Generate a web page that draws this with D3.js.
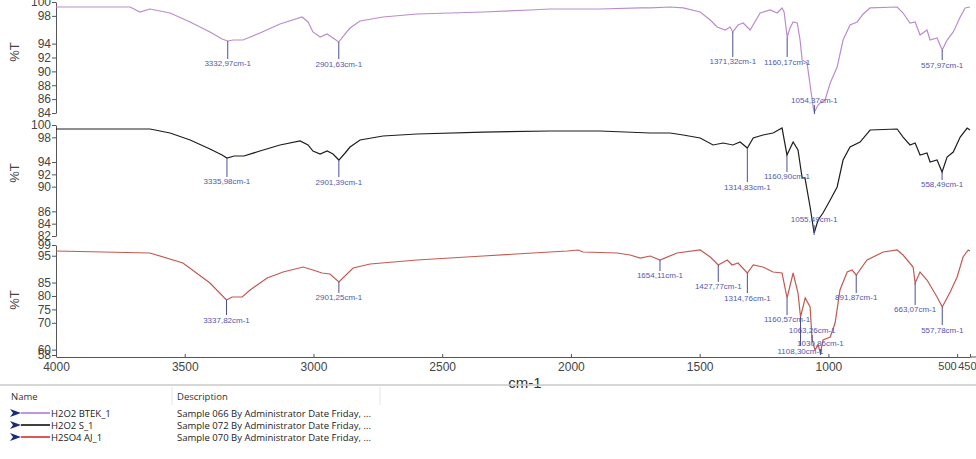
<!DOCTYPE html>
<html>
<head>
<meta charset="utf-8">
<script src="https://cdn.jsdelivr.net/npm/d3@7"></script>
<style>
  body { margin: 0; background: #fff; }
  svg { display: block; font-family: Arial, "Liberation Sans", sans-serif; }
</style>
</head>
<body>
<svg id="chart" width="976" height="459"></svg>
<script>
// wavenumber ticks on the shared x axis
const wnTicks = [4000, 3500, 3000, 2500, 2000, 1500, 1000, 500, 450]

// %T ticks for each stacked trace
const btekTicks = [84, 86, 88, 90, 92, 94, 98, 100]
const sTicks = [82, 84, 86, 90, 92, 94, 98, 100]
const ajTicks = [58, 60, 70, 75, 80, 85, 95, 99]

// spectra: [wavenumber cm-1, %T]
const btekSpectrum = [[4000,99.28],[3712,99.28],[3674,98.56],[3635,98.99],[3557,98.41],[3479,97.12],[3402,95.68],[3355,94.67],[3332.97,94.38],[3312,94.52],[3274,94.52],[3208,95.53],[3130,96.83],[3044,97.84],[3021,97.12],[3002,95.68],[2974,94.95],[2947,95.39],[2924,94.81],[2901.63,94.23],[2877,95.39],[2858,96.25],[2819,97.26],[2730,97.84],[2598,98.27],[2341,98.56],[2159,98.85],[2081,98.99],[1887,98.99],[1731,99.14],[1692,99.14],[1615,99.28],[1564,99.14],[1498,98.56],[1459,97.41],[1432,96.40],[1401,95.96],[1382,96.40],[1371.32,95.68],[1351,96.68],[1331,96.97],[1304,95.96],[1265,98.41],[1226,98.85],[1199,98.41],[1180,99.14],[1172,98.56],[1160.17,94.95],[1149,96.25],[1137,97.12],[1121,96.97],[1110,94.52],[1102,91.64],[1083,91.21],[1071,88.04],[1059,84.86],[1054.37,84.14],[1040,85.15],[1032,85.44],[1013,85.87],[993,88.32],[966,90.63],[943,94.52],[916,96.68],[888,97.12],[865,98.27],[838,99.14],[733,99.28],[710,98.41],[683,96.97],[663,97.12],[644,95.24],[617,95.96],[605,94.52],[578,94.81],[557.97,93.08],[539,94.52],[515,95.68],[488,97.84],[469,99.14],[450,99.28]]

const sSpectrum = [[4000,99.35],[3635,99.35],[3557,98.70],[3479,97.57],[3402,96.11],[3355,95.14],[3335.98,94.65],[3308,94.97],[3270,94.97],[3208,95.78],[3130,96.76],[3052,97.41],[3021,96.76],[3002,95.78],[2974,95.30],[2947,95.78],[2924,95.30],[2901.39,94.32],[2877,95.46],[2858,96.43],[2819,97.57],[2730,98.22],[2598,98.54],[2341,98.86],[2081,99.03],[1887,99.03],[1692,98.70],[1615,98.70],[1564,98.38],[1498,97.89],[1448,96.76],[1409,97.08],[1371,96.76],[1343,97.24],[1314.83,96.27],[1292,97.89],[1254,98.38],[1215,98.70],[1180,99.51],[1160.90,95.14],[1137,97.24],[1118,95.95],[1102,91.41],[1091,91.41],[1071,86.70],[1055.49,82.49],[1040,84.59],[1021,85.73],[993,87.84],[966,89.95],[943,94.32],[916,96.43],[877,97.24],[838,99.19],[733,99.35],[710,98.05],[683,96.76],[663,97.08],[644,95.14],[617,95.46],[605,94.00],[578,94.32],[558.49,92.38],[539,94.81],[515,95.62],[488,98.05],[461,99.51],[450,99.19]]

const ajSpectrum = [[4000,96.76],[3635,96.02],[3507,92.29],[3402,84.84],[3337.82,78.50],[3316,79.62],[3277,79.62],[3246,82.23],[3180,86.70],[3118,88.94],[3040,90.80],[3002,89.68],[2967,88.56],[2936,88.19],[2901.25,85.21],[2846,90.43],[2780,91.92],[2598,93.41],[2341,94.90],[2147,96.02],[2015,96.76],[1972,97.14],[1953,96.39],[1821,96.02],[1770,95.27],[1731,94.15],[1692,94.90],[1654.11,93.41],[1588,96.02],[1498,97.14],[1459,94.53],[1427.77,91.55],[1393,93.41],[1374,91.55],[1351,92.29],[1314.76,88.56],[1292,91.55],[1254,90.80],[1215,88.94],[1180,88.56],[1160.57,79.25],[1137,88.56],[1118,81.11],[1108.30,72.16],[1090,79.25],[1071,75.89],[1063.26,63.59],[1052,59.86],[1040,61.73],[1030.86,58.75],[1021,63.59],[993,64.71],[974,69.93],[955,82.23],[927,88.94],[908,89.68],[891.87,87.82],[850,93.41],[787,96.39],[733,97.14],[710,95.27],[671,90.80],[663.07,84.84],[644,88.94],[617,85.95],[578,79.62],[557.78,75.89],[527,81.48],[500,87.07],[477,94.53],[457,97.14],[450,96.76]]

// labelled peaks: [wavenumber, label]
const btekPeaks = [[3332.97,'3332,97cm-1'],[2901.63,'2901,63cm-1'],[1371.32,'1371,32cm-1'],[1160.17,'1160,17cm-1'],[1054.37,'1054,37cm-1'],[557.97,'557,97cm-1']]
const sPeaks = [[3335.98,'3335,98cm-1'],[2901.39,'2901,39cm-1'],[1314.83,'1314,83cm-1'],[1160.90,'1160,90cm-1'],[1055.49,'1055,49cm-1'],[558.49,'558,49cm-1']]
const ajPeaks = [[3337.82,'3337,82cm-1'],[2901.25,'2901,25cm-1'],[1654.11,'1654,11cm-1'],[1427.77,'1427,77cm-1'],[1314.76,'1314,76cm-1'],[1160.57,'1160,57cm-1'],[1108.30,'1108,30cm-1'],[1063.26,'1063,26cm-1'],[1030.86,'1030,86cm-1'],[891.87,'891,87cm-1'],[663.07,'663,07cm-1'],[557.78,'557,78cm-1']]

const seriesNames = ['H2O2 BTEK_1', 'H2O2 S_1', 'H2SO4 AJ_1']
const seriesDescriptions = [
  'Sample 066 By Administrator Date Friday, ...',
  'Sample 072 By Administrator Date Friday, ...',
  'Sample 070 By Administrator Date Friday, ...'
]

const svg = d3.select('#chart')
const x = d3.scaleLinear().domain([4000, 450]).range([56, 970])

// layout of the three stacked traces (label drops = px from peak to label)
const panels = [
  { data: btekSpectrum, peaks: btekPeaks, ticks: btekTicks, domain: [84, 100], range: [113, 2],
    color: '#bb8ccc', mid: 52, drops: [23, 22, 30, 25, -12, 15] },
  { data: sSpectrum, peaks: sPeaks, ticks: sTicks, domain: [82, 100], range: [236, 125],
    color: '#1e1e1e', mid: 173, drops: [24, 22, 39, 22, -13, 13] },
  { data: ajSpectrum, peaks: ajPeaks, ticks: ajTicks, domain: [58, 99], range: [355, 245],
    color: '#c25a52', mid: 300, drops: [20, 16, 16, 22, 25, 22, 34, -10, -9, 23, 27, 23] }
]

function styleAxis(g) {
  g.select('.domain').attr('stroke', '#555')
  g.selectAll('.tick line').attr('stroke', '#555')
  g.selectAll('.tick text').attr('fill', '#444').style('font-size', '12px')
}

panels.forEach(p => {
  const y = d3.scaleLinear().domain(p.domain).range(p.range)

  svg.append('g')
    .attr('transform', 'translate(56,0)')
    .call(d3.axisLeft(y).tickValues(p.ticks).tickSize(4).tickSizeOuter(0).tickPadding(1))
    .call(styleAxis)

  svg.append('text')
    .attr('transform', `translate(19,${p.mid}) rotate(-90)`)
    .attr('text-anchor', 'middle')
    .attr('fill', '#444')
    .style('font-size', '13px')
    .text('%T')

  const line = d3.line().x(d => x(d[0])).y(d => y(d[1]))
  svg.append('path')
    .datum(p.data)
    .attr('fill', 'none')
    .attr('stroke', p.color)
    .attr('stroke-width', 1.2)
    .attr('d', line)

  const lookup = new Map(p.data.map(d => [d[0], d[1]]))
  const marks = svg.append('g')
  p.peaks.forEach((pk, i) => {
    const px = x(pk[0])
    const py = y(lookup.get(pk[0]))
    const drop = p.drops[i]
    const ly = py + drop
    marks.append('line')
      .attr('x1', px).attr('x2', px)
      .attr('y1', drop > 0 ? py : ly + 5)
      .attr('y2', drop > 0 ? ly - 5 : py + 2)
      .attr('stroke', '#4a4f96')
      .attr('stroke-width', 1)
    marks.append('text')
      .attr('x', px)
      .attr('y', ly)
      .attr('text-anchor', 'middle')
      .attr('dominant-baseline', 'central')
      .attr('fill', '#5257ad')
      .style('font-size', '8px')
      .text(pk[1])
  })
})

const xAxis = svg.append('g')
  .attr('transform', 'translate(0,357)')
  .call(d3.axisBottom(x).tickValues(wnTicks).tickFormat(d3.format('d')).tickSize(-3).tickSizeOuter(0).tickPadding(5))
  .call(styleAxis)
// the last two labels sit tight against the right edge
xAxis.selectAll('.tick text')
  .filter(d => d === 500).attr('text-anchor', 'end').attr('dx', -1).style('font-size', '11px')
xAxis.selectAll('.tick text')
  .filter(d => d === 450).attr('text-anchor', 'end').attr('dx', 6).style('font-size', '11px')
xAxis.append('line')
  .attr('x1', x(450)).attr('x2', 976).attr('y1', 0).attr('y2', 0)
  .attr('stroke', '#555')

svg.append('text')
  .attr('x', 525).attr('y', 388)
  .attr('text-anchor', 'middle')
  .attr('fill', '#333')
  .style('font-size', '15px')
  .text('cm-1')

// legend table below the plot
const legendColors = ['#b57ad8', '#111111', '#dd2a2a']
const legend = svg.append('g').style('font-family', '"Open Sans", "Noto Sans", sans-serif')

legend.append('line').attr('x1', 0).attr('x2', 976).attr('y1', 385).attr('y2', 385)
  .attr('stroke', '#c8c8c8').attr('stroke-width', 1.5)
;[172, 380].forEach(sx => legend.append('line')
  .attr('x1', sx).attr('x2', sx).attr('y1', 387).attr('y2', 405)
  .attr('stroke', '#e6e6e6'))

legend.append('text').attr('x', 11).attr('y', 400).attr('fill', '#333').style('font-size', '9.5px').text('Name')
legend.append('text').attr('x', 177).attr('y', 400).attr('fill', '#333').style('font-size', '9.5px').text('Description')

const rows = legend.selectAll('g.row')
  .data(seriesNames)
  .enter()
  .append('g')
  .attr('class', 'row')
  .attr('transform', (d, i) => `translate(0,${413 + i * 12})`)

rows.append('path')
  .attr('d', 'M10,-4 L21,0 L10,4 L13,0 Z')
  .attr('fill', '#1c2a7a')
rows.append('line')
  .attr('x1', 21).attr('x2', 50).attr('y1', 0).attr('y2', 0)
  .attr('stroke', (d, i) => legendColors[i])
  .attr('stroke-width', 1.6)
rows.append('text')
  .attr('x', 51).attr('y', 3.5)
  .attr('fill', '#222')
  .style('font-size', '9.5px')
  .text(d => d)
rows.append('text')
  .attr('x', 177).attr('y', 3.5)
  .attr('fill', '#222')
  .style('font-size', '9.5px')
  .text((d, i) => seriesDescriptions[i])
</script>
</body>
</html>
